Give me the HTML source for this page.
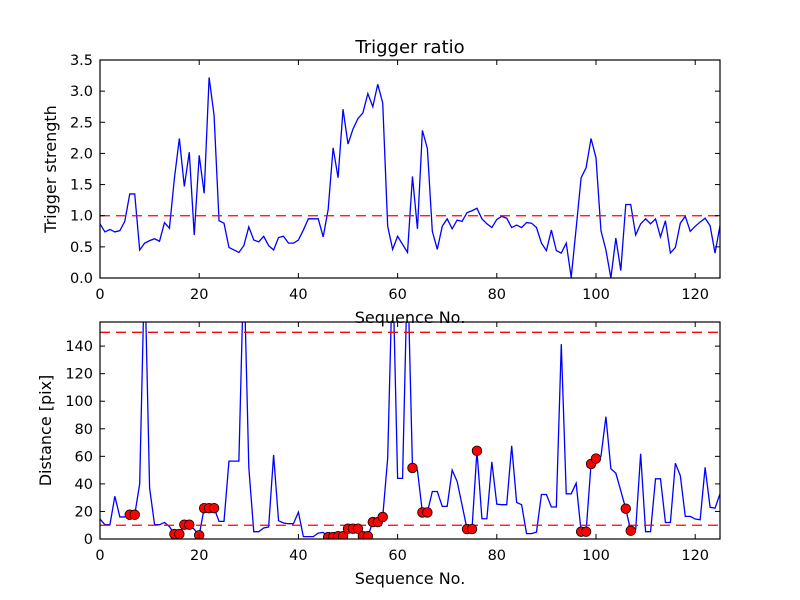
<!DOCTYPE html>
<html><head><meta charset="utf-8"><style>
html,body{margin:0;padding:0;background:#fff;width:800px;height:600px;overflow:hidden}
svg text{font-family:"DejaVu Sans","Liberation Sans",sans-serif;fill:#000}
</style></head><body>
<svg id="chart" width="800" height="600" xmlns="http://www.w3.org/2000/svg"></svg>
<script>
const seqIndex = Array.from({length:126},(_,i)=>i);
const ratioValues = [0.87,0.74,0.78,0.74,0.76,0.91,1.35,1.35,0.45,0.56,0.6,0.63,0.59,0.89,0.8,1.6,2.24,1.47,2.02,0.69,
1.97,1.36,3.22,2.61,0.92,0.88,0.49,0.45,0.41,0.52,0.82,0.61,0.58,0.67,0.52,0.45,0.65,0.67,0.56,0.56,
0.61,0.77,0.95,0.95,0.95,0.66,1.1,2.09,1.61,2.71,2.15,2.39,2.56,2.65,2.96,2.75,3.11,2.81,0.83,0.46,
0.67,0.54,0.41,1.63,0.79,2.37,2.08,0.75,0.46,0.83,0.95,0.79,0.93,0.91,1.05,1.08,1.12,0.95,0.87,0.81,
0.94,0.99,0.96,0.81,0.85,0.81,0.89,0.88,0.81,0.56,0.44,0.77,0.44,0.4,0.56,0.01,0.8,1.61,1.77,2.24,
1.93,0.76,0.45,0.0,0.64,0.12,1.18,1.18,0.69,0.87,0.95,0.87,0.95,0.66,0.92,0.4,0.49,0.88,0.99,0.75,
0.83,0.9,0.96,0.84,0.4,0.84];
const distValues = [14.5,10.4,10.4,31,16,16,17.6,17.6,40,200,37,10.4,10.4,12,9,3.6,3.6,10.4,10.4,7,
2.7,22.4,22.4,22.4,12.8,12.8,56.5,56.5,56.5,200,52,5.3,5.3,8,8.7,61,13.3,11.6,11.1,11.1,
19.5,1.7,1.7,1.7,4.3,4.8,1.4,1.4,2,2,7.5,7.5,7.5,2,2,12.3,12.3,16,58.6,200,
44,44,200,51.6,50,19.3,19.3,34.5,34.5,23.7,23.7,50,41.8,24.6,7.2,7.2,64,14.7,14.7,56,
25.3,24.9,24.9,67.6,26.5,24.9,3.9,3.9,5,32.3,32.3,23.2,23.2,141.4,32.8,32.8,40.5,5.3,5.3,54.5,
58.4,60,88.8,51,47.8,35,22,6,7,61.8,5.3,5.3,43.7,43.7,12,12,55,46,16.4,16.4,
14.5,14,52,23,22.4,32.8];
const markerIndex = [6,7,15,16,17,18,20,21,22,23,46,47,48,49,50,51,52,53,54,55,56,57,63,65,66,74,75,76,97,98,99,100,106,107];
const xTicks = [0,20,40,60,80,100,120];
const topYTicks = [0,0.5,1,1.5,2,2.5,3,3.5];
const topYLabels = ["0.0","0.5","1.0","1.5","2.0","2.5","3.0","3.5"];
const botYTicks = [0,20,40,60,80,100,120,140];
const ratioThreshold = [1];
const distThresholds = [10,150];

const NS="http://www.w3.org/2000/svg";
const svg=document.getElementById('chart');
function mk(tag,attrs,parent){const e=document.createElementNS(NS,tag);for(const k in attrs)e.setAttribute(k,attrs[k]);(parent||svg).appendChild(e);return e;}
const L=100,R=720;
const xs=v=>L+(v-0)/(125-0)*(R-L);
const topY=v=>278-v/3.5*218;
const botY=v=>539-v/157.5*217;

const defs=mk('defs',{});
const c1=mk('clipPath',{id:'clipTop'},defs);mk('rect',{x:L,y:60,width:R-L,height:218},c1);
const c2=mk('clipPath',{id:'clipBot'},defs);mk('rect',{x:L,y:322,width:R-L,height:217},c2);

function axes(name,top,bot,yTicks,yLabels,yFn,ylabel,ylabX){
  const g=mk('g',{});
  
  
  xTicks.forEach(t=>{const x=xs(t);
    mk('line',{x1:x,x2:x,y1:bot,y2:bot-5,stroke:'#000','stroke-width':1},g);
    mk('line',{x1:x,x2:x,y1:top,y2:top+5,stroke:'#000','stroke-width':1},g);
    const tx=mk('text',{x:x,y:bot+21,'text-anchor':'middle','font-size':14.5},g);tx.textContent=t;
    
    
  });
  yTicks.forEach((t,i)=>{const y=yFn(t);
    mk('line',{x1:L,x2:L+5,y1:y,y2:y,stroke:'#000','stroke-width':1},g);
    mk('line',{x1:R,x2:R-5,y1:y,y2:y,stroke:'#000','stroke-width':1},g);
    const tx=mk('text',{x:L-7,y:y+5,'text-anchor':'end','font-size':14.5},g);tx.textContent=yLabels[i];
    
    
  });
  const xl=mk('text',{x:(L+R)/2,y:bot+45,'text-anchor':'middle','font-size':16},g);xl.textContent='Sequence No.';
  
  
  const yl=mk('text',{x:ylabX,y:(top+bot)/2,'text-anchor':'middle','font-size':16,transform:`rotate(-90 ${ylabX} ${(top+bot)/2})`},g);yl.textContent=ylabel;
  
  
}

const tl=mk('polyline',{points:seqIndex.map(i=>xs(i)+','+topY(ratioValues[i])).join(' '),fill:'none',stroke:'#0000ff','stroke-width':1.3,'clip-path':'url(#clipTop)'});


ratioThreshold.forEach(v=>{const l=mk('line',{x1:L,x2:R,y1:topY(v),y2:topY(v),stroke:'#ff0000','stroke-width':1.3,'stroke-dasharray':'10,6'});
  
  });
mk('rect',{x:L,y:60,width:R-L,height:218,fill:'none',stroke:'#000','stroke-width':1.2});
axes('top-axes',60,278,topYTicks,topYLabels,topY,'Trigger strength',56);
const title=mk('text',{x:410,y:53,'text-anchor':'middle','font-size':18});title.textContent='Trigger ratio';



const bl=mk('polyline',{points:seqIndex.map(i=>xs(i)+','+botY(distValues[i])).join(' '),fill:'none',stroke:'#0000ff','stroke-width':1.3,'clip-path':'url(#clipBot)'});


distThresholds.forEach(v=>{const l=mk('line',{x1:L,x2:R,y1:botY(v),y2:botY(v),stroke:'#ff0000','stroke-width':1.3,'stroke-dasharray':'10,6'});
  
  });
markerIndex.forEach(i=>{const c=mk('circle',{cx:xs(i),cy:botY(distValues[i]),r:4.8,fill:'#ff0000',stroke:'#000','stroke-width':0.8,'clip-path':'url(#clipBot)'});
  
  });
mk('rect',{x:L,y:322,width:R-L,height:217,fill:'none',stroke:'#000','stroke-width':1.2});
axes('bottom-axes',322,539,botYTicks,botYTicks.map(String),botY,'Distance [pix]',51);
</script>
</body></html>
